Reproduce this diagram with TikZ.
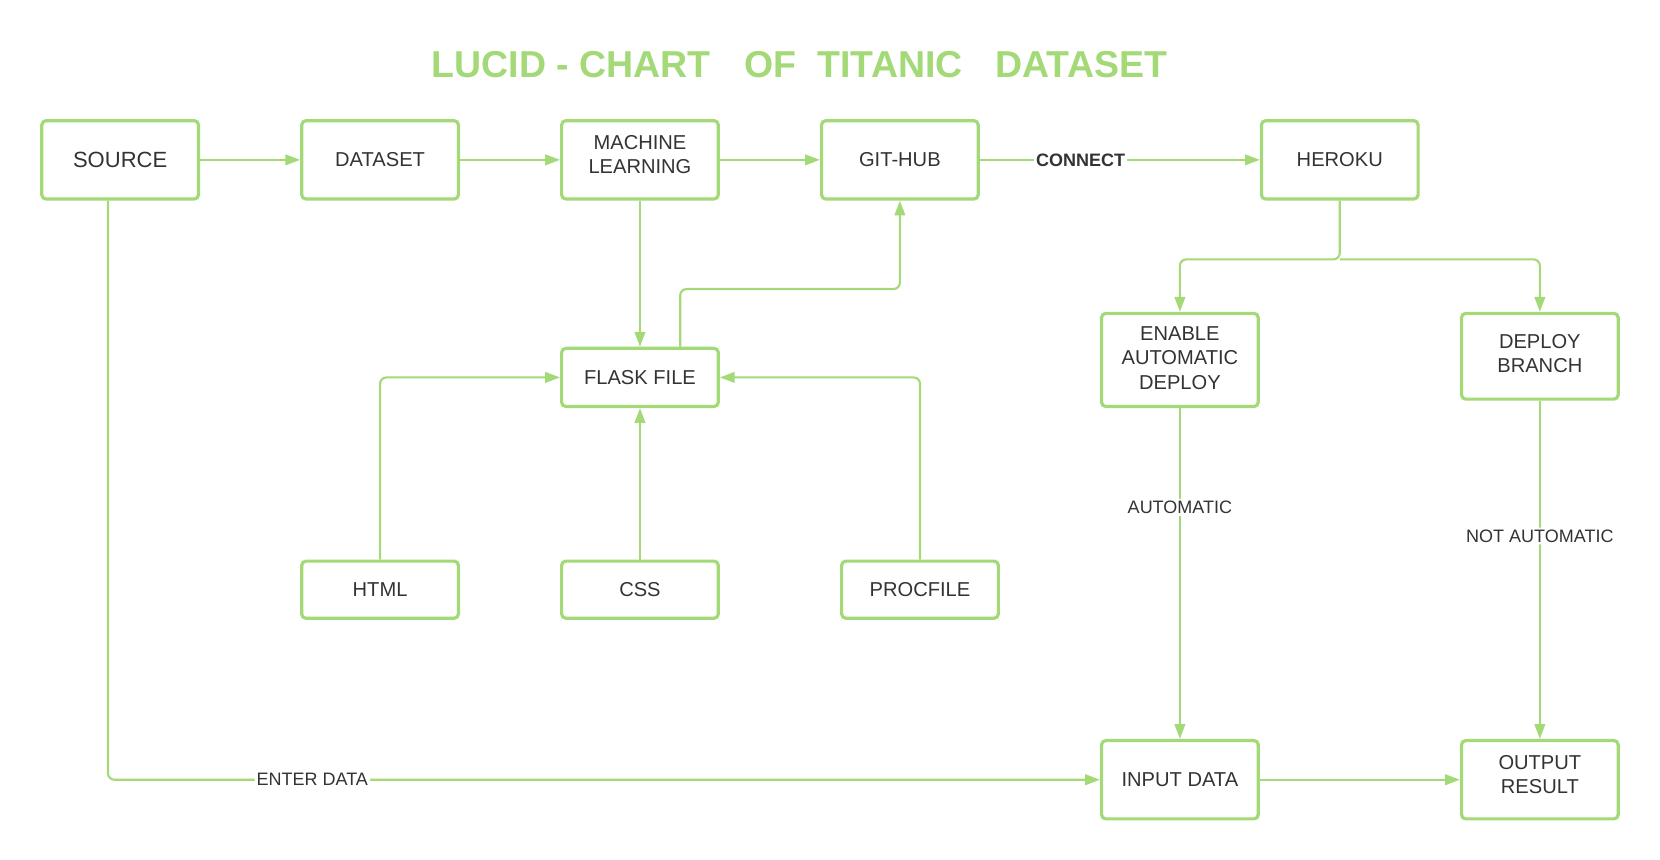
\documentclass[tikz,border=0pt]{standalone}
\usepackage{fontspec}
\setmainfont{Liberation Sans}
\usepackage{xcolor}
\usetikzlibrary{arrows.meta}
\definecolor{lucidgreen}{HTML}{A3D977}
\definecolor{lucidtext}{HTML}{333333}

\begin{document}
\begin{tikzpicture}[x=0.5pt, y=-0.5pt,
    box/.style={rectangle, draw=lucidgreen, line width=1.5pt, rounded corners=2pt, minimum width=74pt, minimum height=37pt, align=center, text=lucidtext, font=\fontsize{9.5}{11.5}\selectfont},
    lift/.style={text depth=5pt},
    link/.style={draw=lucidgreen, line width=1pt, rounded corners=3pt, -{Triangle[length=7pt,width=5pt]}},
    lbl/.style={fill=white, text=lucidtext, font=\fontsize{8.5}{10}\selectfont, inner sep=1pt}
]
    \useasboundingbox (0,0) rectangle (1568,812);

    % Title
    \node[text=lucidgreen, font=\bfseries\fontsize{17.7}{21}\selectfont] (title) at (755,61) {LUCID - CHART\hspace{16pt}OF\hspace{10pt}TITANIC\hspace{15.5pt}DATASET};

    % Top row
    \node[box] (source) at (113.5,151) {\fontsize{10.4}{12}\selectfont SOURCE};
    \node[box] (dataset) at (359,151) {DATASET};
    \node[box, lift] (ml) at (604.5,151) {MACHINE\\LEARNING};
    \node[box] (github) at (850,151) {GIT-HUB};
    \node[box] (heroku) at (1265.5,151) {HEROKU};

    % Flask layer
    \node[box, minimum height=27.5pt] (flask) at (604.5,356.5) {FLASK FILE};
    \node[box, minimum height=27pt] (html) at (359,557) {HTML};
    \node[box, minimum height=27pt] (css) at (604.5,557) {CSS};
    \node[box, minimum height=27pt] (procfile) at (869,557) {PROCFILE};

    % Deploy layer
    \node[box, lift, text depth=2pt, minimum height=44pt] (enable) at (1114.5,340) {ENABLE\\AUTOMATIC\\DEPLOY};
    \node[box, lift, text depth=2.5pt, minimum height=40.5pt] (deploy) at (1454.5,336.5) {DEPLOY\\BRANCH};
    \node[box] (input) at (1114.5,736.5) {INPUT DATA};
    \node[box, lift] (output) at (1454.5,736.5) {OUTPUT\\RESULT};

    % Turning points
    \coordinate (gitturn) at (850,273);
    \coordinate (split) at (1265.5,245);

    % Arrows
    \draw[link] (source) -- (dataset);
    \draw[link] (dataset) -- (ml);
    \draw[link] (ml) -- (github);
    \draw[link] (github) -- node[lbl, pos=0.36, font=\bfseries\fontsize{8.5}{10}\selectfont] {CONNECT} (heroku);
    \draw[link] (ml) -- (flask);
    \draw[link] ([xshift=19pt]flask.north) |- (gitturn) -- (github.south);
    \draw[link] (html.north) |- (flask.west);
    \draw[link] (css) -- (flask);
    \draw[link] (procfile.north) |- (flask.east);
    \draw[link] (heroku.south) -- (split) -| (enable.north);
    \draw[link] (split) -| (deploy.north);
    \draw[link] (enable) -- node[lbl, pos=0.3] {AUTOMATIC} (input);
    \draw[link] (deploy) -- node[lbl, pos=0.4] {NOT AUTOMATIC} (output);
    \draw[link] ([xshift=-5.75pt]source.south) |- node[lbl, pos=0.603] {ENTER DATA} (input.west);
    \draw[link] (input) -- (output);
\end{tikzpicture}
\end{document}
